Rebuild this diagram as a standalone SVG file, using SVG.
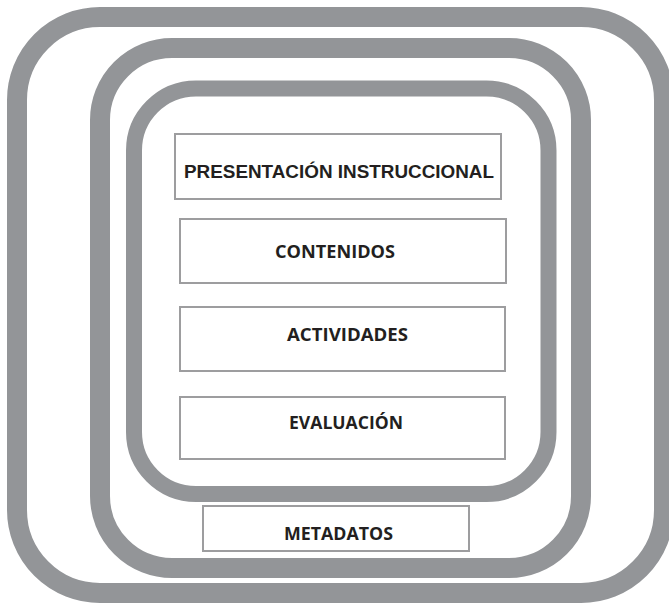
<svg xmlns="http://www.w3.org/2000/svg" width="669" height="603" viewBox="0 0 669 603">
<style>
.frame{fill:none;stroke:#939598}
.box{fill:#ffffff;stroke:#9d9d9f;stroke-width:2}
.t1{font-family:"Liberation Sans",Arial,sans-serif;font-weight:bold;font-size:19px;fill:#231f20;text-anchor:middle}
.t2{font-family:"Open Sans","DejaVu Sans",sans-serif;font-weight:bold;font-size:17.5px;fill:#231f20;text-anchor:middle}
</style>
<rect width="669" height="603" fill="#ffffff"/>
<g id="frames">
<rect id="outer-frame" class="frame" x="17" y="17" width="647" height="576" rx="83" ry="83" stroke-width="20"/>
<rect id="middle-frame" class="frame" x="100" y="48" width="481" height="520" rx="72" ry="72" stroke-width="20"/>
<rect id="inner-frame" class="frame" x="134" y="88.5" width="414.5" height="405.5" rx="62" ry="62" stroke-width="16"/>
</g>
<g id="connectors"></g>
<g id="presentacion">
<rect class="box" x="175" y="134" width="326" height="65"/>
<text class="t1" x="339" y="177.5" textLength="310" lengthAdjust="spacingAndGlyphs">PRESENTACIÓN INSTRUCCIONAL</text>
</g>
<g id="contenidos">
<rect class="box" x="180" y="219" width="326" height="64"/>
<text class="t2" x="335" y="258" textLength="120" lengthAdjust="spacingAndGlyphs">CONTENIDOS</text>
</g>
<g id="actividades">
<rect class="box" x="180" y="307" width="325" height="64"/>
<text class="t2" x="347.5" y="341" textLength="121" lengthAdjust="spacingAndGlyphs">ACTIVIDADES</text>
</g>
<g id="evaluacion">
<rect class="box" x="180" y="397" width="325" height="62"/>
<text class="t2" x="346" y="429" textLength="114" lengthAdjust="spacingAndGlyphs">EVALUACIÓN</text>
</g>
<g id="metadatos">
<rect class="box" x="203" y="506" width="266" height="45"/>
<text class="t2" x="338.5" y="540" textLength="109" lengthAdjust="spacingAndGlyphs">METADATOS</text>
</g>
</svg>
